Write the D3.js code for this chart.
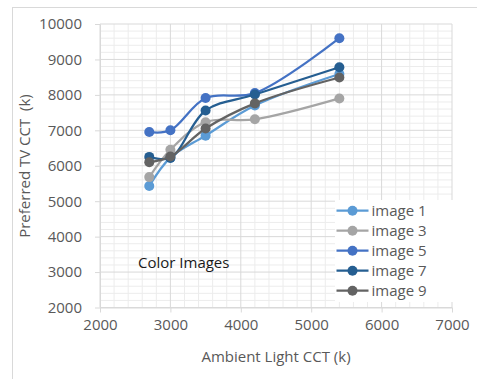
<!DOCTYPE html>
<html><head><meta charset="utf-8">
<script src="https://cdn.jsdelivr.net/npm/d3@7/dist/d3.min.js"></script>
<style>body{margin:0;background:#fff}svg{display:block}text{font-family:"Open Sans",sans-serif}</style>
</head><body><svg id="c" width="477" height="379"></svg>
<script>
const xValues = [2700, 3000, 3500, 4200, 5400];
const seriesNames = ["image 1", "image 3", "image 5", "image 7", "image 9"];
const image1 = [5430, 6230, 6850, 7700, 8590];
const image3 = [5680, 6450, 7230, 7310, 7900];
const image5 = [6950, 7000, 7910, 8050, 9600];
const image7 = [6250, 6220, 7560, 8010, 8780];
const image9 = [6100, 6260, 7050, 7760, 8490];
const xTicks = [2000, 3000, 4000, 5000, 6000, 7000];
const yTicks = [2000, 3000, 4000, 5000, 6000, 7000, 8000, 9000, 10000];
const colors = ["#5B9BD5", "#A5A5A5", "#4472C4", "#255E91", "#636363"];
const seriesValues = [image1, image3, image5, image7, image9];

const svg = d3.select("#c");
svg.append("rect").attr("x",12.5).attr("y",7.5).attr("width",480).attr("height",400)
  .attr("fill","#fff").attr("stroke","#d9d9d9");

const x = d3.scaleLinear().domain([2000,7000]).range([100,452]);
const y = d3.scaleLinear().domain([2000,10000]).range([307.5,24]);

const g = svg.append("g");
d3.range(2000,7001,200).filter(v=>v%1000!==0).forEach(v=>{
  g.append("line").attr("x1",x(v)).attr("x2",x(v)).attr("y1",y(2000)).attr("y2",y(10000)).attr("stroke","#ececec").attr("stroke-width",1);
});
d3.range(2000,10001,200).filter(v=>v%1000!==0).forEach(v=>{
  g.append("line").attr("x1",x(2000)).attr("x2",x(7000)).attr("y1",y(v)).attr("y2",y(v)).attr("stroke","#ececec").attr("stroke-width",1);
});
xTicks.forEach(v=>g.append("line").attr("x1",x(v)).attr("x2",x(v)).attr("y1",y(2000)).attr("y2",y(10000)).attr("stroke","#d9d9d9").attr("stroke-width",1));
yTicks.forEach(v=>g.append("line").attr("x1",x(2000)).attr("x2",x(7000)).attr("y1",y(v)).attr("y2",y(v)).attr("stroke","#d9d9d9").attr("stroke-width",1));

const xa = svg.append("g").attr("transform",`translate(0,${y(2000)})`)
  .call(d3.axisBottom(x).tickValues(xTicks).tickFormat(d3.format("d")).tickSize(5).tickSizeOuter(0).tickPadding(7));
const ya = svg.append("g").attr("transform",`translate(${x(2000)},0)`)
  .call(d3.axisLeft(y).tickValues(yTicks).tickFormat(d3.format("d")).tickSize(5).tickSizeOuter(0).tickPadding(13));
[xa,ya].forEach(a=>{
  a.select(".domain").attr("stroke","#d9d9d9");
  a.selectAll(".tick line").attr("stroke","#d9d9d9");
  a.selectAll("text").attr("fill","#595959").style("font-size","15px").style("font-family","'Open Sans',sans-serif");
});

svg.append("text").attr("x",276).attr("y",362).attr("text-anchor","middle")
  .attr("fill","#595959").style("font-size","15px").text("Ambient Light CCT (k)");
svg.append("text").attr("transform","translate(30,166) rotate(-90)").attr("text-anchor","middle")
  .attr("fill","#595959").style("font-size","15px").attr("xml:space","preserve").text("Preferred TV CCT  (k)");

svg.append("text").attr("x",138).attr("y",268).attr("fill","#1a1a1a").style("font-size","15px").text("Color Images");

const line = d3.line().x(d=>x(d[0])).y(d=>y(d[1])).curve(d3.curveCatmullRom.alpha(0.5));
seriesValues.forEach((vals,i)=>{
  const pts = xValues.map((xv,j)=>[xv,vals[j]]);
  svg.append("path").attr("d",line(pts)).attr("fill","none").attr("stroke",colors[i]).attr("stroke-width",2.25);
  svg.selectAll(null).data(pts).enter().append("circle")
    .attr("cx",d=>x(d[0])).attr("cy",d=>y(d[1])).attr("r",5).attr("fill",colors[i]);
});

const lg = svg.append("g");
lg.append("rect").attr("x",335).attr("y",200).attr("width",120).attr("height",102).attr("fill","#fff");
seriesNames.forEach((n,i)=>{
  const cy = 210.7 + i*20;
  lg.append("line").attr("x1",336.5).attr("x2",368.5).attr("y1",cy).attr("y2",cy).attr("stroke",colors[i]).attr("stroke-width",2.25);
  lg.append("circle").attr("cx",352.5).attr("cy",cy).attr("r",5).attr("fill",colors[i]);
  lg.append("text").attr("x",371.5).attr("y",cy+5).attr("fill","#595959").style("font-size","15px").text(n);
});
</script></body></html>
